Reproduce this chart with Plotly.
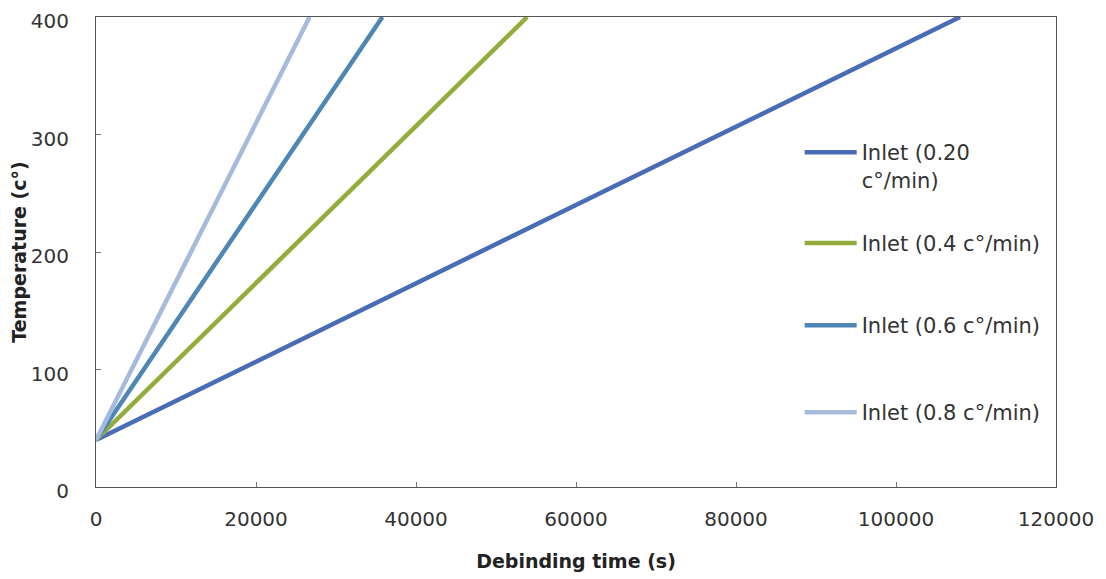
import plotly.graph_objects as go

# Data (debinding time in s, temperature in °C)
time_020 = [0, 108000]
temp_020 = [40, 400]
time_04 = [0, 53900]
temp_04 = [40, 400]
time_06 = [0, 35800]
temp_06 = [40, 400]
time_08 = [0, 26700]
temp_08 = [40, 400]

names = ["Inlet (0.20<br>c°/min)", "Inlet (0.4 c°/min)", "Inlet (0.6 c°/min)", "Inlet (0.8 c°/min)"]
colors = ["#4a6cb6", "#93ad3c", "#4e86b6", "#a6bbdc"]
x_ticks = [0, 20000, 40000, 60000, 80000, 100000, 120000]
y_ticks = [0, 100, 200, 300, 400]

FONT = "DejaVu Sans"
series = [(time_020, temp_020), (time_04, temp_04), (time_06, temp_06), (time_08, temp_08)]
legend_ids = ["legend", "legend2", "legend3", "legend4"]

fig = go.Figure()
for (xs, ys), nm, col, lg in zip(series, names, colors, legend_ids):
    fig.add_trace(go.Scatter(x=xs, y=ys, mode="lines", name=nm, showlegend=True,
                             line=dict(color=col, width=4.5), legend=lg))

legend_top = [0.755, 0.562, 0.387, 0.202]
leg_common = dict(x=0.733, xanchor="left", yanchor="top", bgcolor="rgba(0,0,0,0)",
                  font=dict(family=FONT, size=21, color="#333333"), itemwidth=52,
                  valign="top")
legs = {}
for lg, yy in zip(legend_ids, legend_top):
    legs[lg] = dict(leg_common, y=yy)

fig.update_layout(
    width=1106, height=579,
    margin=dict(l=88, r=58, t=9, b=100),
    showlegend=True,
    paper_bgcolor="white", plot_bgcolor="white",
    font=dict(family=FONT, size=20, color="#333333"),
    **legs,
    xaxis=dict(range=[0, 120000], tickvals=x_ticks, ticktext=[str(v) for v in x_ticks],
               showgrid=False, zeroline=False, showline=True, mirror=True,
               linecolor="#555555", linewidth=1, ticks="inside", ticklen=5,
               tickcolor="#777777", ticklabelstandoff=14, automargin=False,
               ticklabeloverflow="allow",
               tickfont=dict(family=FONT, size=20, color="#333333"),
               title=dict(text="<b>Debinding time (s)</b>", standoff=24,
                          font=dict(family=FONT, size=19, color="#222222"))),
    yaxis=dict(range=[0, 400], tickvals=y_ticks, ticktext=[str(v) for v in y_ticks],
               showgrid=False, zeroline=False, showline=True, mirror=True,
               linecolor="#555555", linewidth=1, ticks="inside", ticklen=5,
               tickcolor="#777777", ticklabelstandoff=22, automargin=False,
               ticklabeloverflow="allow", ticklabelshift=4,
               tickfont=dict(family=FONT, size=20, color="#333333"),
               title=dict(text="<b>Temperature (c°)</b>", standoff=0,
                          font=dict(family=FONT, size=19, color="#222222"))),
)

fig.write_html("out.html")
